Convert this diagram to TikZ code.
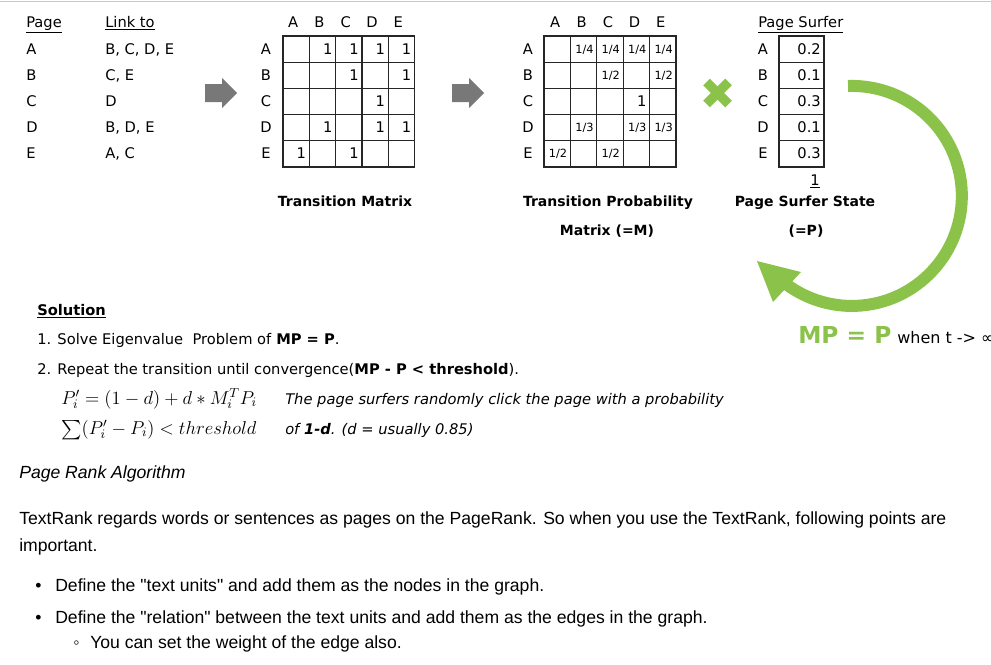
\documentclass[tikz,border=0pt]{standalone}
\usepackage{fix-cm}
\usepackage{fontspec}
\setmainfont{DejaVu Sans}
\newfontfamily\bodyfont{Liberation Sans}
\definecolor{lgreen}{RGB}{139,195,74}
\definecolor{agray}{RGB}{120,120,120}
\definecolor{rulegray}{RGB}{200,200,200}
\newcommand{\bigsum}{\mathop{\raisebox{-0.25ex}{\scalebox{1.45}{$\sum$}}}\nolimits}
\begin{document}
\begin{tikzpicture}[x=0.75pt,y=-0.75pt,
  txt/.style={anchor=base west,inner sep=0pt,font=\fontsize{11}{13}\selectfont},
  hdr/.style={anchor=base,inner sep=0pt,font=\fontsize{11}{13}\selectfont},
  val/.style={anchor=base east,inner sep=0pt,font=\fontsize{11}{13}\selectfont},
  fracval/.style={anchor=base east,inner sep=0pt,font=\fontsize{8.5}{10}\selectfont},
  ttl/.style={anchor=base,inner sep=0pt,font=\bfseries\fontsize{10.5}{13}\selectfont},
  formula/.style={anchor=base west,inner sep=0pt,font=\fontsize{14}{16}\selectfont},
  body/.style={anchor=base west,inner sep=0pt,font=\bodyfont\fontsize{13.2}{15}\selectfont},
  cellbox/.style={draw=black!85,line width=0.9pt},
  greenmark/.style={draw=lgreen,line width=7pt}]
\useasboundingbox (0,0) rectangle (991,664);
\clip (0,0) rectangle (991,664);
\draw[rulegray,line width=0.75pt] (0,1) -- (991,1);

% link table
\node[txt] (hpage) at (26,27) {\underline{Page}};
\node[txt] (hlink) at (105,27) {\underline{Link to}};
\foreach \k/\p/\l in {0/A/{B, C, D, E},1/B/{C, E},2/C/D,3/D/{B, D, E},4/E/{A, C}}{
  \node[txt] (lp\k) at (26,{54+\k*26.2}) {\p};
  \node[txt] (ll\k) at (105,{54+\k*26.2}) {\l};
}

% gray arrows
\fill[agray] (205,84) -- (222,84) -- (222,78) -- (237,93) -- (222,108) -- (222,102) -- (205,102) -- cycle;
\fill[agray] (452,84) -- (469,84) -- (469,78) -- (484,93) -- (469,108) -- (469,102) -- (452,102) -- cycle;

% transition matrix
\foreach \k/\p in {0/A,1/B,2/C,3/D,4/E}{
  \node[hdr] (tc\k) at ({283+(\k+0.5)*26.3-3},27) {\p};
  \node[hdr] (tr\k) at (266,{54+\k*26.2}) {\p};
  \foreach \j in {0,...,4}
    \draw[cellbox] ({283+\j*26.3},{36+\k*26.2}) rectangle ({283+(\j+1)*26.3},{36+(\k+1)*26.2});
}
\foreach \j/\r in {1/0,2/0,3/0,4/0,2/1,4/1,3/2,1/3,3/3,4/3,0/4,2/4}
  \node[val] (tm\r\j) at ({283+(\j+1)*26.3-3},{54+\r*26.2}) {1};
\node[ttl] (ttm) at (345,206) {Transition Matrix};

% probability matrix
\foreach \k/\p in {0/A,1/B,2/C,3/D,4/E}{
  \node[hdr] (pc\k) at ({544+(\k+0.5)*26.4-2},27) {\p};
  \node[hdr] (pr\k) at (528,{54+\k*26.2}) {\p};
  \foreach \j in {0,...,4}
    \draw[cellbox] ({544+\j*26.4},{36+\k*26.2}) rectangle ({544+(\j+1)*26.4},{36+(\k+1)*26.2});
}
\foreach \j in {1,2,3,4}
  \node[fracval] (pmA\j) at ({544+(\j+1)*26.4-3},{53+0*26.2}) {1/4};
\foreach \j in {2,4}
  \node[fracval] (pmB\j) at ({544+(\j+1)*26.4-3},{53+1*26.2}) {1/2};
\node[val] (pmC3) at ({544+4*26.4-3},{54+2*26.2}) {1};
\foreach \j in {1,3,4}
  \node[fracval] (pmD\j) at ({544+(\j+1)*26.4-3},{53+3*26.2}) {1/3};
\foreach \j in {0,2}
  \node[fracval] (pmE\j) at ({544+(\j+1)*26.4-3},{53+4*26.2}) {1/2};
\node[ttl] (tpm1) at (608,206) {Transition Probability};
\node[ttl] (tpm2) at (607,235) {Matrix (=M)};

% green multiplication mark
\draw[greenmark] (706.5,82) -- (728.5,104);
\draw[greenmark] (728.5,82) -- (706.5,104);

% page surfer vector
\node[txt] (hps) at (758,27) {\underline{Page Surfer}};
\foreach \k/\p/\v in {0/A/0.2,1/B/0.1,2/C/0.3,3/D/0.1,4/E/0.3}{
  \node[hdr] (sr\k) at (763,{54+\k*26.2}) {\p};
  \draw[cellbox] (779,{36+\k*26.2}) rectangle (824,{36+(\k+1)*26.2});
  \node[val] (sv\k) at (821,{54+\k*26.2}) {\v};
}
\node[hdr] (sum1) at (815,185) {\underline{1}};
\node[ttl] (tps1) at (805,206) {Page Surfer State};
\node[ttl] (tps2) at (806,235) {(=P)};

% cycle arrow
\draw[lgreen,line width=9pt] (848,86) arc[start angle=-92,end angle=126,radius=110];
\fill[lgreen] (757,261) -- (801,272) -- (773,302) -- cycle;
\node[anchor=base west,inner sep=0pt,text=lgreen,font=\bfseries\fontsize{17.5}{20}\selectfont] (mpp) at (798,343) {MP = P};
\node[anchor=base west,inner sep=0pt,font=\fontsize{12}{14}\selectfont] (when) at (897,343) {when t -> ∞};

% solution
\node[txt] (sol) at (37,315) {\textbf{\underline{Solution}}};
\node[txt] (s1) at (37,344) {1. Solve Eigenvalue\ \ Problem of \textbf{MP = P}.};
\node[txt] (s2) at (37,374) {2. Repeat the transition until convergence(\textbf{MP - P < threshold}).};
\node[formula] (f1) at (61,404) {$P_i' = (1-d) + d * M_i^T P_i$};
\node[formula] (f2) at (61,434) {$\bigsum(P_i' - P_i) < threshold$};
\node[txt,font=\itshape\fontsize{11}{13}\selectfont] (e1) at (285,404) {The page surfers randomly click the page with a probability};
\node[txt,font=\itshape\fontsize{11}{13}\selectfont] (e2) at (285,434) {of \textbf{1-d}. (d = usually 0.85)};

% body text
\node[body,font=\bodyfont\itshape\fontsize{13.2}{15}\selectfont] (pra) at (19,478) {Page Rank Algorithm};
\node[body] (b1) at (19,524) {TextRank regards words or sentences as pages on the PageRank. So when you use the TextRank, following points are};
\node[body] (b2) at (19,551) {important.};
\node[body] (d1m) at (35,591) {•};
\node[body] (d1) at (55,591) {Define the "text units" and add them as the nodes in the graph.};
\node[body] (d2m) at (35,623) {•};
\node[body] (d2) at (55,623) {Define the "relation" between the text units and add them as the edges in the graph.};
\node[body] (d3m) at (73,648) {◦};
\node[body] (d3) at (90,648) {You can set the weight of the edge also.};
\end{tikzpicture}
\end{document}
